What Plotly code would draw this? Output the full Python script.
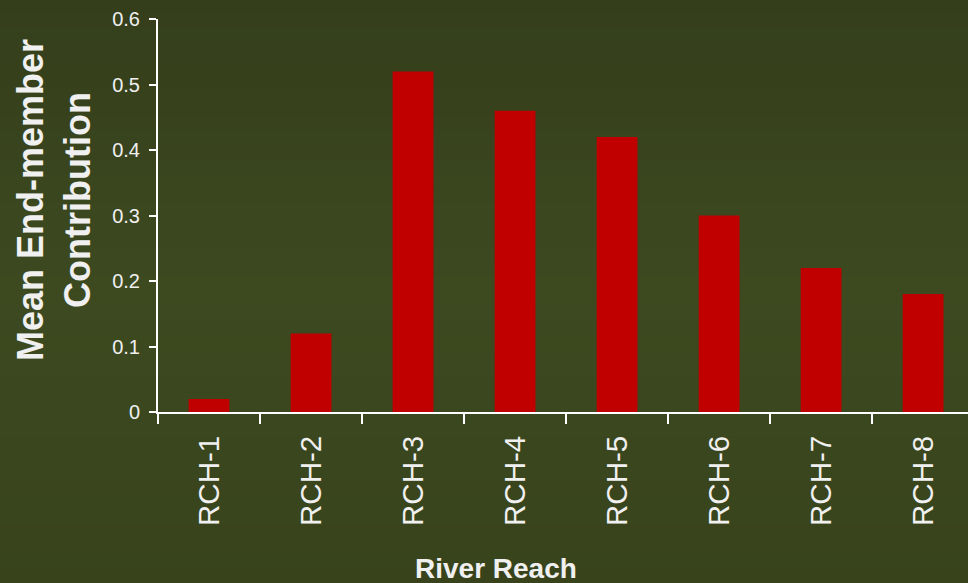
import plotly.graph_objects as go

categories = ["RCH-1", "RCH-2", "RCH-3", "RCH-4", "RCH-5", "RCH-6", "RCH-7", "RCH-8"]
values = [0.02, 0.12, 0.52, 0.46, 0.42, 0.30, 0.22, 0.18]
y_ticks = [0, 0.1, 0.2, 0.3, 0.4, 0.5, 0.6]
y_tick_labels = ["0", "0.1", "0.2", "0.3", "0.4", "0.5", "0.6"]

W, H = 968, 583
FONT = "Liberation Sans, Arial, sans-serif"
TXT = "#F0F0F0"

fig = go.Figure()
fig.add_trace(go.Bar(x=categories, y=values, width=0.4,
                     marker=dict(color="#C00000", line=dict(width=0))))

# background gradient (style only)
def lerp(c1, c2, t):
    return tuple(round(a + (b - a) * t) for a, b in zip(c1, c2))
top = (0x34, 0x3E, 0x1B)
mid = (0x3D, 0x4A, 0x20)
bot = (0x38, 0x43, 0x1C)
shapes = []
N = 40
for i in range(N):
    t = (i + 0.5) / N  # from top
    c = lerp(top, mid, t / 0.5) if t < 0.5 else lerp(mid, bot, (t - 0.5) / 0.5)
    y1 = 1 - i / N
    y0 = 1 - (i + 1) / N
    shapes.append(dict(type="rect", xref="paper", yref="paper", x0=0, x1=1,
                       y0=y0 - 0.002, y1=y1 + 0.002, layer="below",
                       fillcolor="rgb(%d,%d,%d)" % c, line=dict(width=0)))

fig.update_layout(
    width=W, height=H,
    margin=dict(l=0, r=0, t=0, b=0, autoexpand=False),
    paper_bgcolor="#3B471F",
    plot_bgcolor="rgba(0,0,0,0)",
    showlegend=False,
    shapes=shapes,
    bargap=0.6,
    xaxis=dict(domain=[158 / W, 1], range=[-0.5, 7.44],
               showline=True, linecolor="white", linewidth=2,
               ticks="outside", tickson="boundaries", ticklen=10, tickwidth=2,
               tickcolor="white", tickangle=-90, ticklabelstandoff=10,
               tickfont=dict(family=FONT, size=29.5, color=TXT),
               showgrid=False, zeroline=False, automargin=False),
    yaxis=dict(domain=[1 - 412 / H, 1 - 19 / H], range=[0, 0.6],
               tickvals=y_ticks, ticktext=y_tick_labels,
               showline=True, linecolor="white", linewidth=2,
               ticks="outside", ticklen=7, tickwidth=2, tickcolor="white",
               ticklabelstandoff=5,
               tickfont=dict(family=FONT, size=20, color=TXT),
               showgrid=False, zeroline=False, automargin=False),
    annotations=[
        dict(text="<b>Mean End-member<br>Contribution</b>", textangle=-90,
             xref="paper", yref="paper", x=54 / W, y=1 - 200 / H,
             xanchor="center", yanchor="middle", showarrow=False,
             font=dict(family=FONT, size=36, color=TXT)),
        dict(text="<b>River Reach</b>",
             xref="paper", yref="paper", x=496 / W, y=1 - 568 / H,
             xanchor="center", yanchor="middle", showarrow=False,
             font=dict(family=FONT, size=28, color=TXT)),
    ],
)

fig.write_html("out.html")
